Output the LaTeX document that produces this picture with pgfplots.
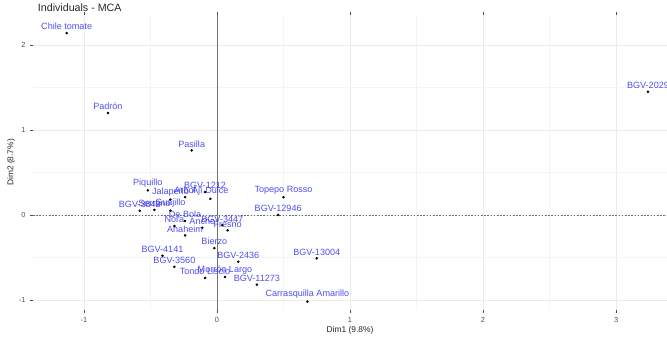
\documentclass[border=0pt]{standalone}
\usepackage{pgfplots}
\pgfplotsset{compat=1.18}
\usepackage{pgfplotstable}
\usepackage{fontspec}
\setmainfont{Liberation Sans}

\definecolor{gridmajor}{HTML}{EBEBEB}
\definecolor{gridminor}{HTML}{F4F4F4}
\definecolor{indblue}{HTML}{3030EE}
\definecolor{axtext}{HTML}{4D4D4D}

% Coordinates of the individuals on the first two MCA dimensions
\pgfplotstableread[col sep=comma]{
x,y,label
-1.13,2.14,Chile tomate
-0.82,1.20,Padrón
-0.19,0.76,Pasilla
-0.52,0.29,Piquillo
-0.58,0.05,BGV-3842
3.24,1.45,BGV-2029
0.50,0.21,Topepo Rosso
0.46,0.00,BGV-12946
0.75,-0.51,BGV-13004
0.68,-1.02,Carrasquilla Amarillo
0.30,-0.82,BGV-11273
0.16,-0.55,BGV-2436
-0.02,-0.39,Bierzo
-0.41,-0.48,BGV-4141
-0.32,-0.61,BGV-3560
-0.09,-0.74,Tondo Liscio
0.06,-0.73,Morrón Largo
-0.09,0.27,BGV-1212
-0.35,0.18,Jalapeño
-0.24,0.21,Arbol
-0.35,0.05,Guajillo
-0.47,0.06,Serrano
-0.05,0.19,Ají Dulce
-0.32,-0.13,Nora
-0.24,-0.07,De Bola
-0.11,-0.15,Ancho
0.08,-0.18,Fresno
0.04,-0.12,BGV-3447
-0.24,-0.24,Anaheim
}\indtable

\begin{document}
\begin{tikzpicture}[x=1pt,y=1pt]
\begin{axis}[
  at={(0,0)}, anchor=south west,
  scale only axis,
  width=475.5pt, height=221.25pt,
  xmin=-1.383, xmax=3.383,
  ymin=-1.118, ymax=2.353,
  xtick={-1,0,1,2,3},
  ytick={-1,0,1,2},
  minor tick num=1,
  grid=both,
  major grid style={gridmajor, line width=0.5pt},
  minor grid style={gridminor, line width=0.3pt},
  axis line style={draw=none},
  tick align=outside,
  major tick length=2.2pt,
  minor tick length=0pt,
  tick style={axtext, line width=0.4pt},
  ticklabel style={font=\fontsize{5.5}{6.5}\selectfont, text=axtext},
  /pgf/number format/assume math mode=true,
  xlabel={Dim1 (9.8\%)},
  ylabel={Dim2 (8.7\%)},
  label style={font=\fontsize{6.3}{7}\selectfont, text=black!85},
  xlabel style={yshift=4pt},
  ylabel style={yshift=-4pt},
  title={Individuals - MCA},
  title style={font=\fontsize{8}{9}\selectfont, text=black!85,
    at={(0,1)}, anchor=south west, inner sep=0pt, xshift=3.5pt, yshift=-3.3pt},
  clip=true,
]
% reference lines through the origin
\addplot[black!55, line width=0.45pt, forget plot] coordinates {(0,-1.118) (0,2.353)};
\addplot[black!55, line width=0.45pt, dash pattern=on 1.2pt off 1.2pt, forget plot]
  coordinates {(-1.383,0) (3.383,0)};
% individuals
\addplot[
  only marks, mark=*, mark size=0.75pt, black,
  point meta=explicit symbolic,
  nodes near coords,
  every node near coord/.append style={
    anchor=south, inner sep=0.3pt, yshift=1.8pt,
    font=\fontsize{6.8}{7.5}\selectfont, text=indblue, opacity=0.85},
] table[x=x, y=y, meta=label] {\indtable};
\end{axis}
\pgfresetboundingbox
\path[use as bounding box] (-24.75pt,-22.5pt) rectangle (475.5pt,232.5pt);
\end{tikzpicture}
\end{document}
